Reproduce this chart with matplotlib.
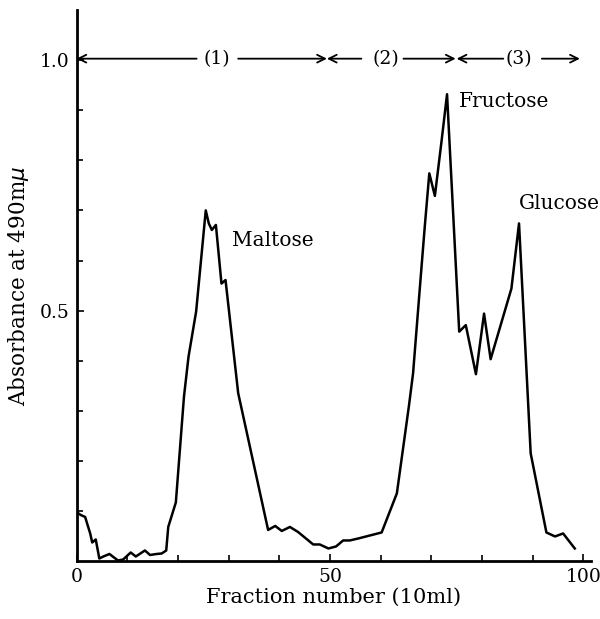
import matplotlib
matplotlib.use("Agg")
import matplotlib.pyplot as plt

# Data
fraction = [0.0, 0.8, 1.7, 2.7, 3.1, 3.8, 4.5, 5.3, 6.5, 7.4, 8.2, 9.2, 10.7, 11.7,
            13.5, 14.5, 15.8, 16.8, 17.7, 18.1, 19.6, 21.2, 22.1, 23.6, 25.5, 26.1,
            26.7, 27.5, 28.6, 29.4, 31.9, 37.8, 39.2, 40.5, 42.1, 43.7, 46.7, 48.0,
            49.7, 51.2, 52.6, 53.9, 55.6, 60.2, 63.2, 65.6, 66.4, 67.7, 68.7, 69.6,
            70.7, 72.0, 73.1, 75.5, 76.8, 78.8, 80.4, 81.7, 85.8, 87.3, 89.6, 92.7,
            94.4, 96.0, 98.3]
absorbance = [0.098, 0.092, 0.088, 0.055, 0.037, 0.043, 0.005, 0.009, 0.014, 0.007,
              0.001, 0.003, 0.017, 0.009, 0.021, 0.012, 0.014, 0.015, 0.021, 0.068,
              0.117, 0.328, 0.408, 0.498, 0.700, 0.674, 0.661, 0.671, 0.554, 0.561,
              0.335, 0.062, 0.070, 0.060, 0.068, 0.058, 0.033, 0.033, 0.025, 0.029,
              0.041, 0.041, 0.045, 0.057, 0.135, 0.311, 0.375, 0.541, 0.667, 0.774,
              0.729, 0.837, 0.932, 0.458, 0.471, 0.373, 0.494, 0.403, 0.544, 0.674,
              0.215, 0.057, 0.049, 0.055, 0.025]

peak_labels = ["Maltose", "Fructose", "Glucose"]
peak_label_x = [30.7, 75.5, 87.2]
peak_label_y = [0.64, 0.918, 0.713]

region_labels = ["(1)", "(2)", "(3)"]
region_label_x = [27.7, 61.0, 87.3]
# arrow segments: (start, end) of each arrow at y = 1.0
arrow_segments = [(23.7, 0.0), (31.9, 49.4), (56.2, 49.4), (64.5, 74.8),
                  (84.2, 75.0), (91.8, 99.3)]

xticks_major = [0, 50, 100]
yticks_major = [0.5, 1.0]

plt.rcParams['font.family'] = ['DejaVu Serif']
fig = plt.figure(figsize=(6.0, 6.19), dpi=100)
ax = fig.add_axes([0.1275, 0.0937, 0.8575, 0.89])

ax.plot(fraction, absorbance, color='black', lw=1.8)

ax.set_xlim(0, 101.5)
ax.set_ylim(0, 1.1)
for s in ['top', 'right']:
    ax.spines[s].set_visible(False)
for s in ['left', 'bottom']:
    ax.spines[s].set_linewidth(2.0)

ax.set_xticks(xticks_major)
ax.set_xticklabels([str(v) for v in xticks_major])
ax.set_xticks([v for v in range(10, 101, 10) if v not in xticks_major], minor=True)
ax.set_yticks(yticks_major)
ax.set_yticklabels(["0.5", "1.0"])
ax.set_yticks([round(0.1 * i, 1) for i in range(1, 11) if i not in (5, 10)], minor=True)
ax.tick_params(axis='both', which='both', direction='in', width=1.2, labelsize=13.5)
ax.tick_params(axis='both', which='major', length=5, pad=5)
ax.tick_params(axis='both', which='minor', length=4)

ax.set_xlabel("Fraction number (10ml)", fontsize=15, labelpad=1)
ax.set_ylabel(r"Absorbance at 490m$\mu$", fontsize=15.5, labelpad=6)

for name, lx, ly in zip(peak_labels, peak_label_x, peak_label_y):
    ax.text(lx, ly, name, fontsize=14.5, ha='left', va='center')

for lab, lx in zip(region_labels, region_label_x):
    ax.text(lx, 1.003, lab, fontsize=13.5, ha='center', va='center')

for start, end in arrow_segments:
    ax.annotate('', xy=(end, 1.003), xytext=(start, 1.003),
                arrowprops=dict(arrowstyle='->', color='black', lw=1.3,
                                shrinkA=0, shrinkB=0, mutation_scale=14),
                annotation_clip=False)

fig.savefig("out.png", dpi=100)
